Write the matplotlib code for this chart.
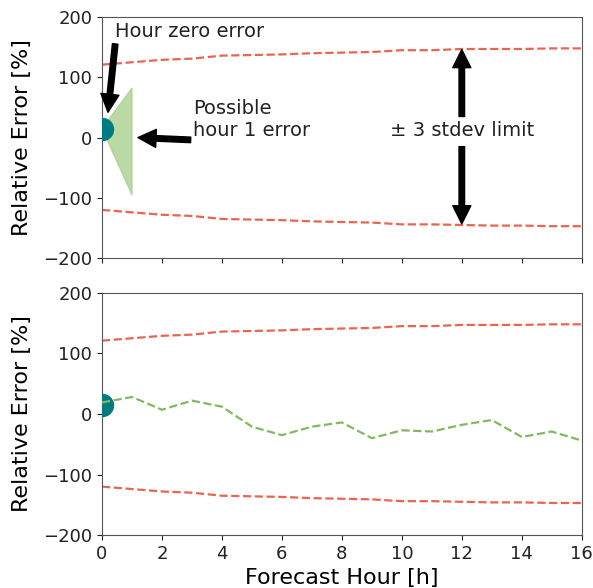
import matplotlib
matplotlib.use("Agg")
import matplotlib.pyplot as plt
from matplotlib.patches import Polygon
import numpy as np

plt.rcParams['font.size'] = 14
plt.rcParams['text.color'] = '#222222'
plt.rcParams['axes.edgecolor'] = '#555555'
plt.rcParams['axes.labelsize'] = 16
plt.rcParams['xtick.labelsize'] = 13
plt.rcParams['ytick.labelsize'] = 13

# forecast hours and values
hours = [0, 1, 2, 3, 4, 5, 6, 7, 8, 9, 10, 11, 12, 13, 14, 15, 16]
upper_limit = [121, 125, 129, 131, 136, 137, 138, 140, 141, 142, 145, 145, 147, 147, 147, 148, 148]
lower_limit = [-120, -124, -128, -130, -135, -136, -137, -139, -140, -141, -144, -144, -145, -146, -146, -147, -147]
forecast_err = [19, 28, 7, 22, 12, -21, -35, -21, -14, -40, -27, -29, -18, -10, -38, -29, -44]
hour0_err = 15
hour1_range = [82, -95]

red = '#e8654f'
green = '#7fba5e'
teal = '#007b80'

fig = plt.figure(figsize=(5.93, 5.88), dpi=100)
ax1 = fig.add_axes([0.172, 0.561, 0.809, 0.410])
ax2 = fig.add_axes([0.172, 0.090, 0.809, 0.412], sharex=ax1)
ax1.set_xlim(0, 16)

for ax in (ax1, ax2):
    ax.plot(hours, upper_limit, '--', color=red, lw=1.6)
    ax.plot(hours, lower_limit, '--', color=red, lw=1.6)
    ax.scatter([hours[0]], [hour0_err], s=250, color=teal, zorder=3)
    ax.set_ylim(-200, 200)
    ax.set_yticks([-200, -100, 0, 100, 200])
    ax.set_ylabel('Relative Error [%]', labelpad=8)
    ax.tick_params(colors='#222222')

ax1.set_xticks(range(0, 17, 2))
plt.setp(ax1.get_xticklabels(), visible=False)

# possible hour-1 spread
tri = Polygon([[hours[0], hour0_err], [1, hour1_range[0]], [1, hour1_range[1]]],
              closed=True, color='#a9d08e', alpha=0.8, zorder=2)
ax1.add_patch(tri)

arrow = dict(facecolor='black', edgecolor='black', width=4, headwidth=13, headlength=13, shrink=0.0)
ax1.annotate('Hour zero error', xy=(0.2, 42), xytext=(0.45, 160),
             arrowprops=arrow, ha='left', va='bottom')
ax1.annotate('Possible\nhour 1 error', xy=(1.2, 0), xytext=(3.05, 30),
             arrowprops=arrow, ha='left', va='center')
ax1.annotate('', xy=(12, 146), xytext=(12, 35), arrowprops=arrow)
ax1.annotate('', xy=(12, -143), xytext=(12, -15), arrowprops=arrow)
ax1.text(12, 12, '± 3 stdev limit', ha='center', va='center')

ax2.plot(hours, forecast_err, '--', color=green, lw=1.6, zorder=4)
ax2.set_xlabel('Forecast Hour [h]')

fig.savefig('out.png', dpi=100)
